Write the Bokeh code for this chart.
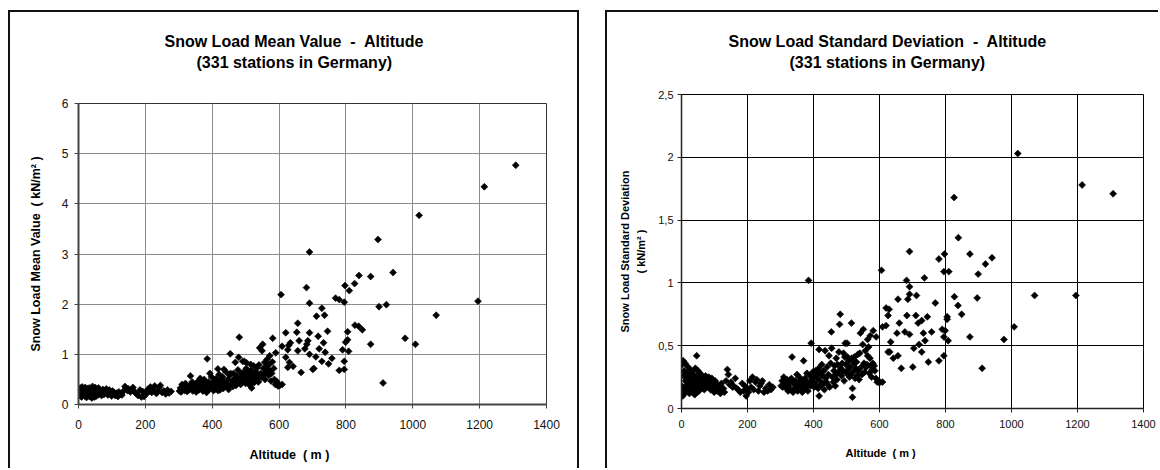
import math

from bokeh.embed import file_html
from bokeh.models import ColumnDataSource, FixedTicker, Range1d, Title
from bokeh.plotting import figure
from bokeh.resources import INLINE

# ---------------------------------------------------------------------------
# Station data: altitude (m), mean annual max snow load and its standard
# deviation (kN/m²), grouped by altitude band.
# ---------------------------------------------------------------------------

# lowland stations, 0 - 110 m
ALT_LOW = [1, 2, 4, 5, 5, 7, 8, 9, 11, 12, 13, 14, 15, 17, 18, 19, 20, 21, 23, 24,
           25, 26, 27, 28, 30, 31, 32, 33, 34, 35, 36, 38, 39, 40, 41, 42, 43, 44, 45, 46,
           47, 48, 49, 50, 51, 52, 53, 55, 56, 57, 58, 60, 61, 63, 65, 67, 69, 71, 73, 76,
           78, 80, 83, 85, 88, 90, 92, 95, 97, 99, 100, 102, 104, 106, 108]
MEAN_LOW = [0.22, 0.30, 0.18, 0.33, 0.25, 0.20, 0.28, 0.15, 0.35, 0.24,
            0.19, 0.31, 0.27, 0.22, 0.17, 0.29, 0.34, 0.21, 0.26, 0.14,
            0.23, 0.32, 0.18, 0.28, 0.25, 0.20, 0.33, 0.16, 0.27, 0.22,
            0.30, 0.19, 0.24, 0.13, 0.29, 0.36, 0.21, 0.26, 0.18, 0.31,
            0.23, 0.15, 0.28, 0.34, 0.20, 0.25, 0.17, 0.30, 0.22, 0.27,
            0.19, 0.33, 0.24, 0.21, 0.28, 0.26, 0.18, 0.23, 0.30, 0.20,
            0.27, 0.24, 0.31, 0.22, 0.19, 0.26, 0.29, 0.21, 0.25, 0.17,
            0.23, 0.27, 0.20, 0.24, 0.19]
SD_LOW = [0.18, 0.35, 0.10, 0.38, 0.26, 0.15, 0.30, 0.12, 0.36, 0.22,
          0.16, 0.28, 0.25, 0.19, 0.14, 0.27, 0.33, 0.17, 0.23, 0.12,
          0.20, 0.31, 0.15, 0.26, 0.21, 0.17, 0.29, 0.13, 0.24, 0.19,
          0.27, 0.16, 0.22, 0.11, 0.25, 0.32, 0.18, 0.23, 0.14, 0.42,
          0.20, 0.13, 0.26, 0.30, 0.17, 0.22, 0.14, 0.28, 0.19, 0.24,
          0.16, 0.27, 0.21, 0.18, 0.25, 0.23, 0.15, 0.20, 0.26, 0.17,
          0.22, 0.19, 0.25, 0.18, 0.15, 0.21, 0.24, 0.17, 0.20, 0.13,
          0.19, 0.22, 0.16, 0.20, 0.14]

# plains and low hills, 110 - 300 m
ALT_HILL = [112, 115, 118, 121, 124, 127, 130, 135, 139, 142, 146, 150, 155, 158, 163,
            167, 172, 178, 184, 188, 192, 196, 199, 203, 207, 211, 215, 219, 224, 228,
            233, 237, 241, 245, 250, 255, 261, 266, 271, 277]
MEAN_HILL = [0.18, 0.23, 0.16, 0.25, 0.20, 0.22, 0.19, 0.27, 0.36, 0.33,
             0.28, 0.31, 0.25, 0.29, 0.34, 0.26, 0.22, 0.18, 0.29, 0.15,
             0.26, 0.16, 0.23, 0.21, 0.30, 0.27, 0.35, 0.24, 0.29, 0.37,
             0.22, 0.26, 0.34, 0.38, 0.24, 0.27, 0.21, 0.29, 0.23, 0.26]
SD_HILL = [0.14, 0.18, 0.12, 0.20, 0.15, 0.16, 0.13, 0.22, 0.31, 0.27,
           0.19, 0.21, 0.17, 0.18, 0.24, 0.16, 0.15, 0.13, 0.20, 0.14,
           0.18, 0.10, 0.16, 0.13, 0.22, 0.17, 0.25, 0.15, 0.21, 0.23,
           0.14, 0.18, 0.20, 0.22, 0.13, 0.16, 0.14, 0.19, 0.15, 0.17]

# uplands, 300 - 600 m
ALT_MID = [302, 305, 307, 310, 312, 315, 318, 320, 323, 325,
           328, 330, 333, 338, 340, 342, 345, 347, 350, 352,
           355, 357, 360, 362, 364, 366, 368, 372, 374, 376,
           378, 380, 383, 387, 389, 391, 395, 398, 400, 402,
           404, 406, 408, 410, 412, 414, 416, 419, 421, 423,
           425, 427, 429, 431, 433, 437, 439, 441, 443, 445,
           447, 449, 452, 457, 460, 462, 464, 466, 468, 471,
           473, 475, 477, 483, 485, 487, 489, 493, 495, 498,
           500, 502, 505, 507, 509, 511, 513, 516, 520, 522,
           524, 526, 528, 530, 532, 534, 536, 538, 540, 545,
           547, 553, 555, 557, 560, 562, 569, 571, 574, 576,
           578, 580, 584, 593,
           385, 393, 481, 479, 454, 455, 496, 515, 551, 542,
           549, 567, 581, 590, 572, 564, 564, 558, 586, 589,
           597, 503, 491, 469, 435, 417, 518, 518, 417, 335,
           370]
MEAN_MID = [0.27, 0.33, 0.25, 0.40, 0.30, 0.36, 0.28, 0.42, 0.31, 0.26,
            0.35, 0.29, 0.38, 0.32, 0.45, 0.27, 0.36, 0.30, 0.41, 0.25,
            0.34, 0.46, 0.29, 0.38, 0.52, 0.33, 0.43, 0.27, 0.36, 0.50,
            0.31, 0.40, 0.24, 0.35, 0.45, 0.30, 0.38, 0.55, 0.33, 0.42,
            0.28, 0.47, 0.36, 0.31, 0.52, 0.39, 0.44, 0.34, 0.60, 0.29,
            0.48, 0.37, 0.41, 0.55, 0.32, 0.45, 0.38, 0.65, 0.42, 0.35,
            0.50, 0.30, 0.58, 0.40, 0.47, 0.36, 0.62, 0.43, 0.53, 0.38,
            0.57, 0.45, 0.69, 0.50, 0.40, 0.62, 0.55, 0.47, 0.65, 0.58,
            0.42, 0.72, 0.52, 0.63, 0.46, 0.55, 0.38, 0.68, 0.48, 0.60,
            0.77, 0.44, 0.55, 0.66, 0.50, 0.73, 0.58, 0.45, 0.79, 0.62,
            0.54, 0.72, 0.60, 0.84, 0.65, 0.75, 0.58, 0.80, 0.66, 0.47,
            0.62, 0.85, 0.72, 0.46,
            0.91, 0.62, 1.34, 0.94, 1.01, 0.62, 0.86, 0.80, 1.20, 1.13,
            1.07, 0.70, 1.32, 1.03, 0.97, 0.90, 0.68, 0.50, 0.50, 0.40,
            0.37, 0.83, 0.86, 0.84, 0.70, 0.71, 0.45, 0.33, 0.28, 0.57,
            0.48]
SD_MID = [0.18, 0.22, 0.17, 0.25, 0.20, 0.19, 0.16, 0.23, 0.14, 0.18,
          0.21, 0.15, 0.24, 0.13, 0.20, 0.16, 0.22, 0.18, 0.27, 0.14,
          0.20, 0.25, 0.17, 0.23, 0.21, 0.13, 0.19, 0.15, 0.24, 0.22,
          0.17, 0.28, 0.14, 0.20, 0.26, 0.18, 0.23, 0.29, 0.21, 0.17,
          0.25, 0.30, 0.19, 0.27, 0.24, 0.16, 0.32, 0.22, 0.28, 0.18,
          0.35, 0.26, 0.20, 0.30, 0.15, 0.24, 0.21, 0.33, 0.19, 0.27,
          0.42, 0.17, 0.36, 0.25, 0.21, 0.30, 0.34, 0.18, 0.27, 0.23,
          0.35, 0.29, 0.45, 0.32, 0.26, 0.36, 0.30, 0.22, 0.41, 0.35,
          0.28, 0.52, 0.31, 0.38, 0.25, 0.33, 0.27, 0.40, 0.29, 0.36,
          0.41, 0.24, 0.32, 0.37, 0.26, 0.43, 0.30, 0.23, 0.44, 0.33,
          0.27, 0.36, 0.29, 0.46, 0.33, 0.35, 0.28, 0.40, 0.34, 0.25,
          0.31, 0.36, 0.34, 0.21,
          1.02, 0.52, 0.75, 0.67, 0.61, 0.48, 0.52, 0.68, 0.63, 0.60,
          0.51, 0.49, 0.62, 0.57, 0.58, 0.55, 0.42, 0.34, 0.30, 0.24,
          0.21, 0.41, 0.44, 0.40, 0.46, 0.47, 0.16, 0.09, 0.10, 0.41,
          0.38]

# mountain stations, above 600 m
ALT_HIGH = [1308, 1214, 1195, 1070, 1019, 1008, 977, 941, 921, 911, 899, 896,
            874, 874, 849, 839, 838, 827, 826,
            797, 810, 795, 780, 769, 805, 805, 799, 790, 808, 795, 780, 795,
            758, 748, 745, 738, 736, 733, 728, 728,
            720, 717, 712, 710, 704, 701,
            691, 682, 691, 691, 686, 683, 677, 691,
            666, 660, 656, 656, 653, 642,
            634, 631, 629, 626, 626, 620, 620, 609, 609, 606, 602]
MEAN_HIGH = [4.77, 4.34, 2.06, 1.78, 3.77, 1.20, 1.32, 2.63, 1.99, 0.43, 1.95, 3.29,
             2.55, 1.20, 1.49, 2.57, 1.56, 1.58, 2.41,
             2.37, 2.27, 2.04, 2.09, 2.12, 1.45, 1.29, 1.24, 1.09, 1.06, 0.86, 0.68, 0.70,
             0.92, 0.81, 1.46, 1.04, 1.78, 1.23, 1.92, 0.86,
             1.11, 1.36, 1.76, 0.95, 0.72, 0.70,
             3.04, 2.33, 2.02, 1.43, 1.27, 1.20, 1.11, 1.00,
             0.64, 1.27, 1.62, 1.07, 1.44, 0.76,
             1.23, 0.84, 1.18, 1.09, 0.74, 1.43, 0.94, 1.16, 0.40, 2.19, 0.38]
SD_HIGH = [1.71, 1.78, 0.90, 0.90, 2.03, 0.65, 0.55, 1.20, 1.15, 0.32, 1.07, 0.88,
           1.23, 0.57, 0.75, 1.36, 0.82, 0.89, 1.68,
           1.23, 1.09, 1.09, 1.19, 0.84, 0.73, 0.71, 0.62, 0.63, 0.54, 0.57, 0.38, 0.42,
           0.61, 0.37, 0.73, 0.54, 1.04, 0.60, 0.70, 0.45,
           0.51, 0.68, 0.90, 0.74, 0.48, 0.33,
           1.25, 1.02, 0.97, 0.91, 0.87, 0.74, 0.61, 0.59,
           0.32, 0.68, 0.87, 0.42, 0.60, 0.40,
           0.53, 0.45, 0.79, 0.74, 0.45, 0.80, 0.66, 0.65, 0.21, 1.10, 0.21]

# axis ticks
X_TICKS = [0, 200, 400, 600, 800, 1000, 1200, 1400]
MEAN_TICKS = [0, 1, 2, 3, 4, 5, 6]
SD_TICKS = [0, 0.5, 1, 1.5, 2, 2.5]
SD_TICK_LABELS = ["0", "0,5", "1", "1,5", "2", "2,5"]

altitude = ALT_LOW + ALT_HILL + ALT_MID + ALT_HIGH
mean_load = MEAN_LOW + MEAN_HILL + MEAN_MID + MEAN_HIGH
std_load = SD_LOW + SD_HILL + SD_MID + SD_HIGH

source = ColumnDataSource(dict(alt=altitude, mean=mean_load, sd=std_load))

FONT = "Liberation Sans"
NB = "\u00a0"  # keeps the wide gaps around the dash and brackets


def caption(text, size, offset, standoff):
    return Title(text=text, align="left", offset=offset, standoff=standoff,
                 text_font=FONT, text_font_size=size, text_font_style="bold",
                 text_color="#000000")


def spacer(standoff):
    return Title(text=NB, text_font_size="1px", standoff=standoff)


def make_panel(cfg):
    p = figure(
        width=cfg["width"], height=cfg["height"],
        x_range=Range1d(0, 1400), y_range=Range1d(0, cfg["ymax"]),
        title=None, toolbar_location=None, output_backend="svg",
        min_border_left=cfg["mb"][0], min_border_right=cfg["mb"][1],
        min_border_top=cfg["mb"][2], min_border_bottom=cfg["mb"][3],
        background_fill_color="white", border_fill_color="white",
        styles=cfg["styles"],
    )
    p.outline_line_color = cfg["frame_color"]
    p.outline_line_width = 1

    # chart title: spacer next to the frame, then the two lines stacked upward
    p.add_layout(spacer(cfg["title_gap"]), "above")
    p.add_layout(caption("(331 stations in Germany)", "16px", cfg["title2_offset"], 2), "above")
    p.add_layout(caption(cfg["title1"], "16px", cfg["title1_offset"], 2), "above")

    # x axis title below the tick labels
    p.add_layout(spacer(cfg["xlabel_gap"]), "below")
    p.add_layout(caption(f"Altitude{NB} ( m )", cfg["xlabel_size"],
                         cfg["xlabel_offset"], 2), "below")

    p.xaxis.ticker = FixedTicker(ticks=X_TICKS)
    p.yaxis.ticker = FixedTicker(ticks=cfg["yticks"])
    if cfg.get("ylabels"):
        p.yaxis.major_label_overrides = dict(zip(cfg["yticks"], cfg["ylabels"]))

    for ax in (p.xaxis, p.yaxis):
        ax.axis_line_color = cfg["axis_color"]
        ax.axis_line_width = cfg["axis_width"]
        ax.major_tick_line_color = cfg["axis_color"]
        ax.major_tick_line_width = 1
        ax.major_tick_in = 0
        ax.major_tick_out = 4
        ax.minor_tick_line_color = None
        ax.major_label_text_font = FONT
        ax.major_label_text_font_size = cfg["tick_size"]
        ax.major_label_text_color = "#111111"

    p.xaxis.major_label_standoff = cfg["xtick_standoff"]
    p.yaxis.major_label_standoff = cfg["ytick_standoff"]

    p.yaxis.axis_label = cfg["ylabel"]
    p.yaxis.axis_label_text_font = FONT
    p.yaxis.axis_label_text_font_size = cfg["ylabel_size"]
    p.yaxis.axis_label_text_font_style = "bold"
    p.yaxis.axis_label_text_color = "#000000"
    p.yaxis.axis_label_standoff = cfg["ylabel_standoff"]
    p.yaxis.axis_label_text_line_height = 1.35

    p.xgrid.grid_line_color = cfg["grid_color"]
    p.ygrid.grid_line_color = cfg["grid_color"]
    p.xgrid.grid_line_width = 1
    p.ygrid.grid_line_width = 1

    p.scatter(x="alt", y=cfg["field"], source=source, marker="square",
              size=4.9, angle=math.pi / 4, fill_color="#000000",
              line_color="#000000", line_width=0.6)
    return p


BORDER = "2px solid #111"

left = make_panel(dict(
    width=571, height=458, ymax=6, yticks=MEAN_TICKS, field="mean",
    mb=(68, 35, 91, 66),
    styles={"position": "absolute", "left": "8px", "top": "10px",
            "border-top": BORDER, "border-left": BORDER, "border-right": BORDER},
    title1=f"Snow Load Mean Value {NB}-{NB} Altitude",
    title1_offset=86, title2_offset=118, title_gap=29,
    xlabel_size="12.5px", xlabel_offset=171, xlabel_gap=10,
    ylabel=f"Snow Load Mean Value {NB}( kN/m² )", ylabel_size="12.5px",
    ylabel_standoff=16, tick_size="12px", xtick_standoff=11, ytick_standoff=6,
    frame_color="#333333", axis_color="#444444", axis_width=2,
    grid_color="#8c8c8c",
))

right = make_panel(dict(
    width=553, height=458, ymax=2.5, yticks=SD_TICKS, ylabels=SD_TICK_LABELS,
    field="sd", mb=(74, 17, 82, 62),
    styles={"position": "absolute", "left": "605px", "top": "10px",
            "border-top": BORDER, "border-left": BORDER},
    title1=f"Snow Load Standard Deviation {NB}-{NB} Altitude",
    title1_offset=47, title2_offset=108, title_gap=20,
    xlabel_size="11px", xlabel_offset=164, xlabel_gap=10,
    ylabel="Snow Load Standard Deviation\n( kN/m² )", ylabel_size="11px",
    ylabel_standoff=8, tick_size="11px", xtick_standoff=7, ytick_standoff=4,
    frame_color="#000000", axis_color="#222222", axis_width=1.5,
    grid_color="#000000",
))

open("out.html", "w").write(file_html([left, right], INLINE))
